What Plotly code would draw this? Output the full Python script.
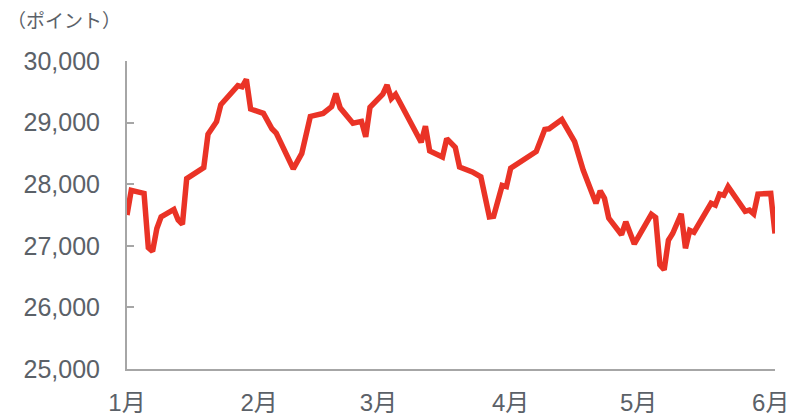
import plotly.graph_objects as go

# Data
dates = [
    "2023-01-01", "2023-01-02", "2023-01-05", "2023-01-06", "2023-01-07", "2023-01-08",
    "2023-01-09", "2023-01-12", "2023-01-13", "2023-01-14", "2023-01-15", "2023-01-19",
    "2023-01-20", "2023-01-22", "2023-01-23", "2023-01-26", "2023-01-27", "2023-01-28",
    "2023-01-29", "2023-01-30", "2023-02-02", "2023-02-04", "2023-02-05", "2023-02-09",
    "2023-02-11", "2023-02-13", "2023-02-16", "2023-02-18", "2023-02-19", "2023-02-20",
    "2023-02-23", "2023-02-25", "2023-02-26", "2023-02-27", "2023-03-01", "2023-03-02",
    "2023-03-03", "2023-03-04", "2023-03-05", "2023-03-11", "2023-03-12", "2023-03-13",
    "2023-03-16", "2023-03-17", "2023-03-19", "2023-03-20", "2023-03-23", "2023-03-25",
    "2023-03-27", "2023-03-28", "2023-03-30", "2023-03-31", "2023-04-01", "2023-04-06",
    "2023-04-07", "2023-04-09", "2023-04-10", "2023-04-13", "2023-04-16", "2023-04-18",
    "2023-04-21", "2023-04-22", "2023-04-23", "2023-04-24", "2023-04-27", "2023-04-28",
    "2023-04-30", "2023-05-04", "2023-05-05", "2023-05-06", "2023-05-07", "2023-05-08",
    "2023-05-09", "2023-05-11", "2023-05-12", "2023-05-13", "2023-05-14", "2023-05-18",
    "2023-05-19", "2023-05-20", "2023-05-21", "2023-05-22", "2023-05-26", "2023-05-27",
    "2023-05-28", "2023-05-29", "2023-06-01", "2023-06-02",
]
values = [
    27500, 27900, 27850, 26970, 26910, 27280,
    27470, 27590, 27420, 27350, 28090, 28270,
    28810, 29015, 29290, 29530, 29600, 29580,
    29700, 29220, 29150, 28900, 28830, 28250,
    28500, 29100, 29150, 29260, 29470, 29240,
    28990, 29020, 28770, 29250, 29390, 29460,
    29610, 29390, 29460, 28680, 28940, 28540,
    28440, 28740, 28600, 28280, 28200, 28120,
    27470, 27480, 27980, 27960, 28260, 28500,
    28530, 28890, 28900, 29050, 28690, 28230,
    27690, 27890, 27770, 27450, 27180, 27390,
    27030, 27510, 27460, 26690, 26610, 27090,
    27200, 27520, 26960, 27250, 27220, 27690,
    27660, 27840, 27820, 27960, 27560, 27580,
    27520, 27840, 27850, 27200,
]

month_ticks = ["2023-01-01", "2023-02-01", "2023-03-01", "2023-04-01", "2023-05-01", "2023-06-01"]
month_labels = ["1月", "2月", "3月", "4月", "5月", "6月"]
y_ticks = [25000, 26000, 27000, 28000, 29000, 30000]
y_labels = ["25,000", "26,000", "27,000", "28,000", "29,000", "30,000"]
unit_label = "（ポイント）"

text_color = "#5b6168"
axis_color = "#a6a6a6"
font_fam = "Liberation Sans, Arial, Noto Sans CJK JP, sans-serif"

fig = go.Figure()
fig.add_trace(go.Scatter(
    x=dates, y=values, mode="lines",
    line=dict(color="#ea3326", width=5.5),
    hoverinfo="skip",
))

fig.update_layout(
    width=802, height=419,
    margin=dict(l=127, r=27, t=61, b=50, autoexpand=False),
    paper_bgcolor="white", plot_bgcolor="white",
    showlegend=False,
    font=dict(family=font_fam, color=text_color),
    xaxis=dict(
        type="date", automargin=False,
        range=["2023-01-01", "2023-06-02"],
        tickvals=month_ticks, ticktext=month_labels,
        showgrid=False, zeroline=False,
        showline=True, linecolor=axis_color, linewidth=2,
        ticks="", ticklabelstandoff=11,
        tickfont=dict(size=24, color=text_color, family=font_fam),
    ),
    yaxis=dict(
        range=[25000, 30000], automargin=False,
        tickvals=y_ticks, ticktext=y_labels,
        showgrid=False, zeroline=False,
        showline=True, linecolor=axis_color, linewidth=2,
        ticks="inside", ticklen=7, tickwidth=2, tickcolor=axis_color,
        ticklabelstandoff=20,
        tickfont=dict(size=25, color=text_color, family=font_fam),
    ),
    annotations=[dict(
        text=unit_label, xref="paper", yref="paper",
        x=-122 / 648, y=1 + 41 / 308, xanchor="left", yanchor="middle",
        showarrow=False,
        font=dict(size=19, color=text_color, family="Noto Sans CJK JP, sans-serif"),
    )],
)

fig.write_html("out.html")
